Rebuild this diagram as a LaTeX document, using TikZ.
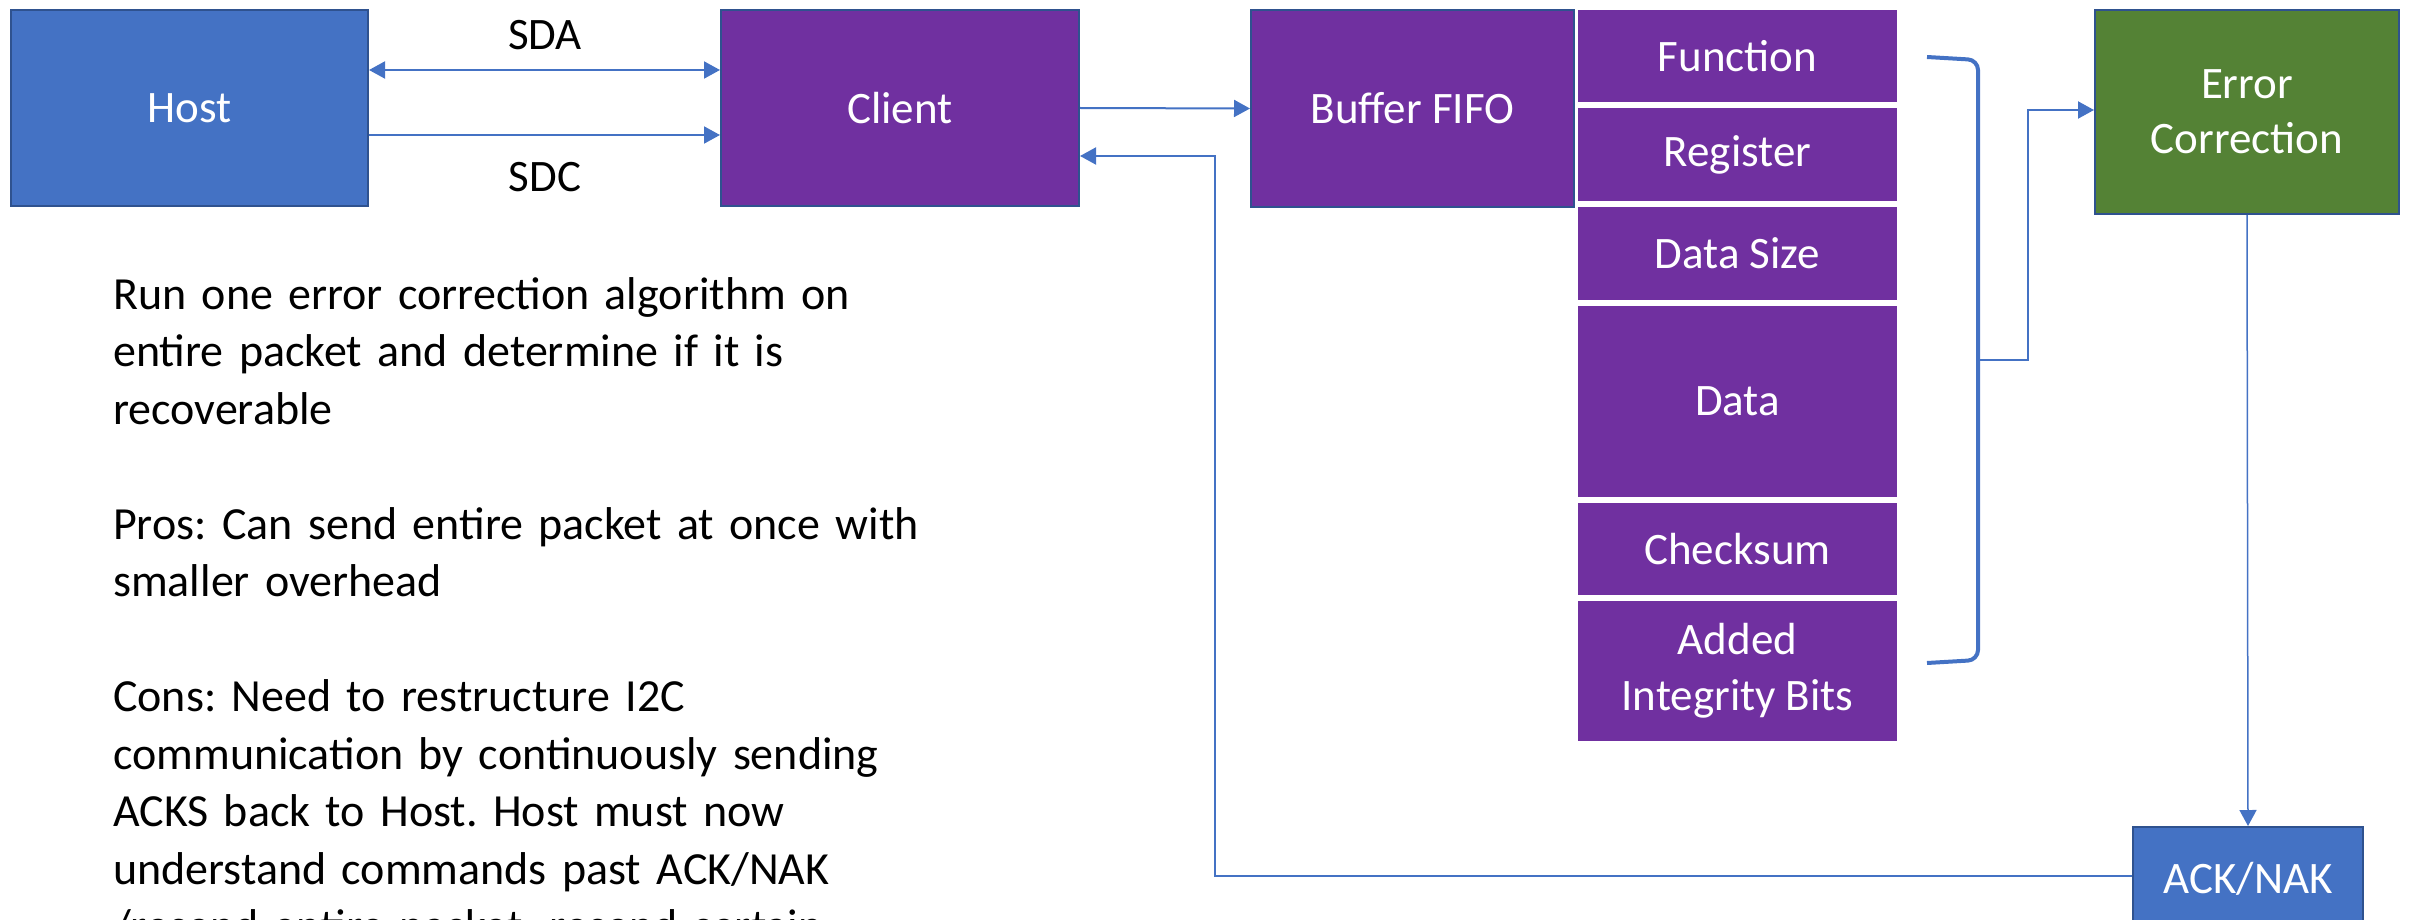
\documentclass[tikz,border=0pt]{standalone}
\usepackage{fontspec}
\setmainfont{Carlito}
\usetikzlibrary{positioning,arrows.meta}

\definecolor{hostblue}{HTML}{4472C4}
\definecolor{edgeblue}{HTML}{2F528F}
\definecolor{pktpurple}{HTML}{7030A0}
\definecolor{ecgreen}{HTML}{548235}

\frenchspacing

\tikzset{
    block/.style={rectangle, draw=edgeblue, line width=2pt, text=white, align=center, font=\fontsize{45}{55}\selectfont},
    field/.style={rectangle, draw=white, line width=3pt, fill=pktpurple, text=white, align=center, minimum width=322pt, font=\fontsize{45}{56}\selectfont},
    conn/.style={draw=hostblue, line width=2pt, >={Triangle[length=16pt,width=17pt]}},
    lbl/.style={font=\fontsize{45}{55}\selectfont},
    note/.style={anchor=base west, align=left, text width=900pt, inner sep=0pt, font=\fontsize{46}{57.5}\selectfont}
}

\begin{document}
\begin{tikzpicture}[x=1pt,y=-1pt]
    \useasboundingbox (0,0) rectangle (2412,920);
    \clip (0,0) rectangle (2412,920);

    % Main blocks
    \node[block, fill=hostblue, minimum width=357pt, minimum height=196pt] (host) at (189.5,108) {Host};
    \node[block, fill=pktpurple, minimum width=358pt, minimum height=196pt] (client) at (900,108) {Client};
    \node[block, fill=pktpurple, minimum width=323pt, minimum height=197pt] (buf) at (1412.5,108.5) {Buffer FIFO};
    \node[block, fill=ecgreen, minimum width=304pt, minimum height=204pt] (ec) at (2247,112) {Error\\Correction};
    \node[block, fill=hostblue, minimum width=230pt, minimum height=104pt] (ack) at (2248,879) {ACK/NAK};

    % Packet fields
    \node[field, minimum height=95.5pt, anchor=north west] (fn) at ([yshift=2pt]buf.north east) {Function};
    \node[field, minimum height=95.5pt, below=0pt of fn] (reg) {Register};
    \node[field, minimum height=95.5pt, below=0pt of reg] (dsz) {Data Size};
    \node[field, minimum height=194pt, below=0pt of dsz] (data) {Data};
    \node[field, minimum height=95.5pt, below=0pt of data] (chk) {Checksum};
    \node[field, minimum height=143pt, below=0pt of chk] (aib) {Added\\Integrity Bits};

    % Bus lines
    \node[lbl] (sda) at (545,35) {SDA};
    \node[lbl] (sdc) at (545,177) {SDC};
    \draw[conn,<->] ([yshift=38pt]host.east) -- ([yshift=38pt]client.west);
    \draw[conn,->] ([yshift=-27pt]host.east) -- ([yshift=-27pt]client.west);
    \draw[conn,->] (client.east) -- (buf.west);

    % Bracket over the fields
    \draw[hostblue, line width=4pt, rounded corners=10pt] (1927,57) -- (1978,60) -- (1978,660) -- (1927,663);
    \coordinate (brk) at (1978,360);
    \draw[conn,->] (brk) -- ++(50,0) |- ([yshift=2pt]ec.west);

    % Result and feedback
    \draw[conn,->,line width=1.5pt] (ec.south) -- (ack.north);
    \coordinate (fb) at (1215,156);
    \draw[conn,->] ([yshift=3pt]ack.west) -| (fb) -- (fb -| client.east);

    % Notes
    \node[note] (notes) at (113,309) {Run one error correction algorithm on\\
        entire packet and determine if it is\\
        recoverable\\[57.5pt]
        Pros: Can send entire packet at once with\\
        smaller overhead\\[57.5pt]
        Cons: Need to restructure I2C\\
        communication by continuously sending\\
        ACKS back to Host. Host must now\\
        understand commands past ACK/NAK\\
        /resend entire packet, resend certain};
\end{tikzpicture}
\end{document}
